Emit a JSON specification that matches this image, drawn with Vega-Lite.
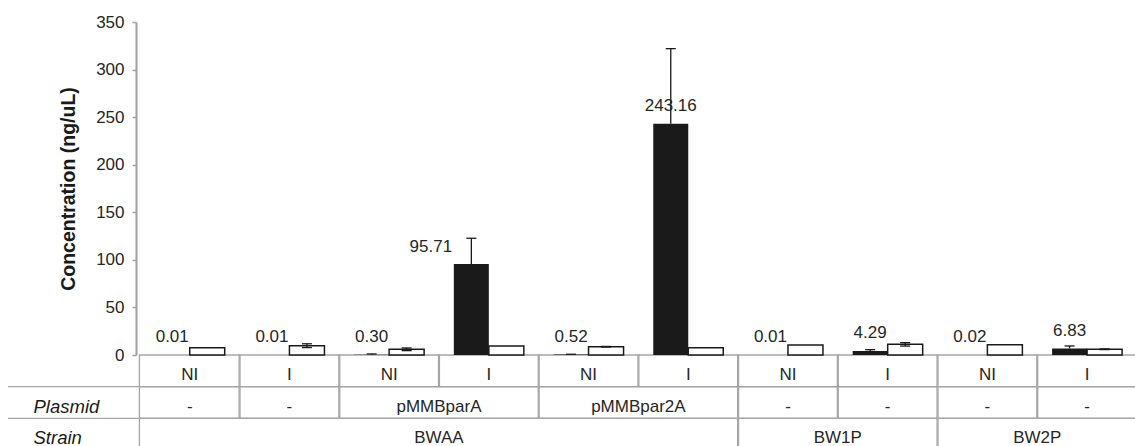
{
  "$schema": "https://vega.github.io/schema/vega-lite/v6.json",
  "width": 1127,
  "height": 424,
  "autosize": {"type": "none"},
  "padding": {"left": 8, "top": 22, "right": 0, "bottom": 0},
  "background": "white",
  "config": {"view": {"stroke": null}, "font": "Liberation Sans"},
  "datasets": {
    "bars": [
      {"g": 1, "s": "A", "v": 0.01, "lo": 0.01, "hi": 0.01},
      {"g": 1, "s": "B", "v": 7.7, "lo": 7.7, "hi": 7.7},
      {"g": 2, "s": "A", "v": 0.01, "lo": 0.01, "hi": 0.01},
      {"g": 2, "s": "B", "v": 9.8, "lo": 7.8, "hi": 11.8},
      {"g": 3, "s": "A", "v": 0.30, "lo": 0.30, "hi": 1.1},
      {"g": 3, "s": "B", "v": 6.0, "lo": 4.6, "hi": 7.4},
      {"g": 4, "s": "A", "v": 95.71, "lo": 95.71, "hi": 122.7},
      {"g": 4, "s": "B", "v": 9.5, "lo": 9.5, "hi": 9.5},
      {"g": 5, "s": "A", "v": 0.52, "lo": 0.52, "hi": 0.8},
      {"g": 5, "s": "B", "v": 8.7, "lo": 8.4, "hi": 9.0},
      {"g": 6, "s": "A", "v": 243.16, "lo": 243.16, "hi": 322},
      {"g": 6, "s": "B", "v": 7.7, "lo": 7.7, "hi": 7.7},
      {"g": 7, "s": "A", "v": 0.01, "lo": 0.01, "hi": 0.01},
      {"g": 7, "s": "B", "v": 10.5, "lo": 10.5, "hi": 10.5},
      {"g": 8, "s": "A", "v": 4.29, "lo": 4.29, "hi": 5.6},
      {"g": 8, "s": "B", "v": 11.2, "lo": 9.4, "hi": 13.0},
      {"g": 9, "s": "A", "v": 0.02, "lo": 0.02, "hi": 0.02},
      {"g": 9, "s": "B", "v": 10.9, "lo": 10.9, "hi": 10.9},
      {"g": 10, "s": "A", "v": 6.83, "lo": 6.83, "hi": 9.5},
      {"g": 10, "s": "B", "v": 6.0, "lo": 5.7, "hi": 6.4}
    ],
    "cells": [
      {"row": "NI/I", "first": 1, "last": 1, "text": "NI"},
      {"row": "NI/I", "first": 2, "last": 2, "text": "I"},
      {"row": "NI/I", "first": 3, "last": 3, "text": "NI"},
      {"row": "NI/I", "first": 4, "last": 4, "text": "I"},
      {"row": "NI/I", "first": 5, "last": 5, "text": "NI"},
      {"row": "NI/I", "first": 6, "last": 6, "text": "I"},
      {"row": "NI/I", "first": 7, "last": 7, "text": "NI"},
      {"row": "NI/I", "first": 8, "last": 8, "text": "I"},
      {"row": "NI/I", "first": 9, "last": 9, "text": "NI"},
      {"row": "NI/I", "first": 10, "last": 10, "text": "I"},
      {"row": "Plasmid", "first": 1, "last": 1, "text": "-"},
      {"row": "Plasmid", "first": 2, "last": 2, "text": "-"},
      {"row": "Plasmid", "first": 3, "last": 4, "text": "pMMBparA"},
      {"row": "Plasmid", "first": 5, "last": 6, "text": "pMMBpar2A"},
      {"row": "Plasmid", "first": 7, "last": 7, "text": "-"},
      {"row": "Plasmid", "first": 8, "last": 8, "text": "-"},
      {"row": "Plasmid", "first": 9, "last": 9, "text": "-"},
      {"row": "Plasmid", "first": 10, "last": 10, "text": "-"},
      {"row": "Strain", "first": 1, "last": 6, "text": "BWAA"},
      {"row": "Strain", "first": 7, "last": 8, "text": "BW1P"},
      {"row": "Strain", "first": 9, "last": 10, "text": "BW2P"}
    ],
    "seps": [{"row": "Plasmid"}, {"row": "Strain"}]
  },
  "layer": [
    {
      "data": {"name": "cells"},
      "mark": {"type": "rect", "fillOpacity": 0, "stroke": "#a6a6a6", "strokeWidth": 1.3, "xOffset": -50.3, "x2Offset": 50.3},
      "encoding": {
        "x": {"field": "first", "type": "quantitative", "scale": {"domain": [-0.7724, 10.4304], "nice": false, "zero": false}, "axis": null},
        "x2": {"field": "last"},
        "y": {
          "field": "row", "type": "nominal",
          "scale": {"domain": ["NI/I", "Plasmid", "Strain"], "range": [333, 428], "paddingInner": 0, "paddingOuter": 0},
          "axis": {"orient": "left", "title": null, "domain": false, "ticks": false, "tickSize": 0, "grid": false,
                   "labelAlign": "left", "labelPadding": -25, "labelFontStyle": "italic", "labelFontSize": 18.5,
                   "labelColor": "#1a1a1a", "labelBaseline": "middle", "labelOffset": 4,
                   "labelExpr": "datum.value == 'NI/I' ? '' : datum.value"}
        }
      }
    },
    {
      "data": {"name": "seps"},
      "mark": {"type": "rule", "stroke": "#a6a6a6", "strokeWidth": 1.3},
      "encoding": {
        "y": {"field": "row", "type": "nominal", "bandPosition": 0,
              "scale": {"domain": ["NI/I", "Plasmid", "Strain"], "range": [333, 428], "paddingInner": 0, "paddingOuter": 0},
              "axis": null}
      }
    },
    {
      "data": {"name": "cells"},
      "transform": [{"fold": ["first", "last"], "as": ["end", "gx"]}],
      "mark": {"type": "text", "fontSize": 17, "color": "#262626", "baseline": "middle", "align": "center", "dy": 4},
      "encoding": {
        "x": {"aggregate": "mean", "field": "gx", "type": "quantitative", "axis": null},
        "y": {"field": "row", "type": "nominal",
              "scale": {"domain": ["NI/I", "Plasmid", "Strain"], "range": [333, 428], "paddingInner": 0, "paddingOuter": 0},
              "axis": null},
        "text": {"field": "text", "type": "nominal"},
        "detail": {"field": "first", "type": "nominal"}
      }
    },
    {
      "data": {"name": "bars"},
      "transform": [{"filter": "datum.s == 'A'"}],
      "mark": {"type": "bar", "orient": "vertical", "width": 35, "xOffset": -17.5, "color": "#1a1a1a"},
      "encoding": {
        "x": {"field": "g", "type": "quantitative", "axis": null},
        "y": {
          "field": "v", "type": "quantitative",
          "scale": {"domain": [0, 350], "range": [333, 0], "nice": false, "zero": true},
          "axis": {"orient": "left", "offset": -128, "values": [0, 50, 100, 150, 200, 250, 300, 350], "grid": false,
                   "domainColor": "#a0a0a0", "domainWidth": 2, "tickColor": "#a0a0a0", "tickWidth": 1.5, "tickSize": 4,
                   "labelFontSize": 17, "labelColor": "#262626", "labelPadding": 8,
                   "title": "Concentration (ng/uL)", "titleFontSize": 19.5, "titleFontWeight": "bold", "titleColor": "#1a1a1a",
                   "titleX": -68, "titleY": 166.5, "titleAngle": -90, "titleAlign": "center", "titleBaseline": "middle"}
        }
      }
    },
    {
      "data": {"name": "bars"},
      "transform": [{"filter": "datum.s == 'B'"}],
      "mark": {"type": "bar", "orient": "vertical", "width": 35, "xOffset": 17.5, "fill": "white", "stroke": "#1a1a1a", "strokeWidth": 1.5},
      "encoding": {
        "x": {"field": "g", "type": "quantitative", "axis": null},
        "y": {"field": "v", "type": "quantitative", "scale": {"domain": [0, 350], "range": [333, 0], "nice": false, "zero": true}, "axis": null}
      }
    },
    {
      "data": {"name": "bars"},
      "transform": [{"filter": "datum.s == 'A' && datum.hi > datum.lo"}],
      "mark": {"type": "rule", "xOffset": -17.5, "color": "#1a1a1a", "strokeWidth": 1.3},
      "encoding": {
        "x": {"field": "g", "type": "quantitative", "axis": null},
        "y": {"field": "lo", "type": "quantitative", "scale": {"domain": [0, 350], "range": [333, 0], "nice": false, "zero": true}, "axis": null},
        "y2": {"field": "hi"}
      }
    },
    {
      "data": {"name": "bars"},
      "transform": [{"filter": "datum.s == 'B' && datum.hi > datum.lo"}],
      "mark": {"type": "rule", "xOffset": 17.5, "color": "#1a1a1a", "strokeWidth": 1.3},
      "encoding": {
        "x": {"field": "g", "type": "quantitative", "axis": null},
        "y": {"field": "lo", "type": "quantitative", "scale": {"domain": [0, 350], "range": [333, 0], "nice": false, "zero": true}, "axis": null},
        "y2": {"field": "hi"}
      }
    },
    {
      "data": {"name": "bars"},
      "transform": [{"filter": "datum.s == 'A' && datum.hi > datum.lo"}],
      "mark": {"type": "tick", "orient": "horizontal", "size": 10, "thickness": 1.3, "xOffset": -17.5, "color": "#1a1a1a", "opacity": 1},
      "encoding": {
        "x": {"field": "g", "type": "quantitative", "axis": null},
        "y": {"field": "hi", "type": "quantitative", "scale": {"domain": [0, 350], "range": [333, 0], "nice": false, "zero": true}, "axis": null}
      }
    },
    {
      "data": {"name": "bars"},
      "transform": [{"filter": "datum.s == 'B' && datum.hi > datum.lo"}],
      "mark": {"type": "tick", "orient": "horizontal", "size": 10, "thickness": 1.3, "xOffset": 17.5, "color": "#1a1a1a", "opacity": 1},
      "encoding": {
        "x": {"field": "g", "type": "quantitative", "axis": null},
        "y": {"field": "hi", "type": "quantitative", "scale": {"domain": [0, 350], "range": [333, 0], "nice": false, "zero": true}, "axis": null}
      }
    },
    {
      "data": {"name": "bars"},
      "transform": [{"filter": "datum.s == 'B' && datum.hi > datum.lo"}],
      "mark": {"type": "tick", "orient": "horizontal", "size": 10, "thickness": 1.3, "xOffset": 17.5, "color": "#1a1a1a", "opacity": 1},
      "encoding": {
        "x": {"field": "g", "type": "quantitative", "axis": null},
        "y": {"field": "lo", "type": "quantitative", "scale": {"domain": [0, 350], "range": [333, 0], "nice": false, "zero": true}, "axis": null}
      }
    },
    {
      "data": {"name": "bars"},
      "transform": [{"filter": "datum.s == 'A' && datum.g != 4"}],
      "mark": {"type": "text", "align": "center", "baseline": "alphabetic", "dx": -17.5, "dy": -13, "fontSize": 17, "color": "#262626"},
      "encoding": {
        "x": {"field": "g", "type": "quantitative", "axis": null},
        "y": {"field": "v", "type": "quantitative", "scale": {"domain": [0, 350], "range": [333, 0], "nice": false, "zero": true}, "axis": null},
        "text": {"field": "v", "type": "quantitative", "format": ".2f"}
      }
    },
    {
      "data": {"name": "bars"},
      "transform": [{"filter": "datum.s == 'A' && datum.g == 4"}],
      "mark": {"type": "text", "align": "center", "baseline": "alphabetic", "dx": -58, "dy": -12, "fontSize": 17, "color": "#262626"},
      "encoding": {
        "x": {"field": "g", "type": "quantitative", "axis": null},
        "y": {"field": "v", "type": "quantitative", "scale": {"domain": [0, 350], "range": [333, 0], "nice": false, "zero": true}, "axis": null},
        "text": {"field": "v", "type": "quantitative", "format": ".2f"}
      }
    }
  ],
  "resolve": {"scale": {"y": "independent"}}
}
